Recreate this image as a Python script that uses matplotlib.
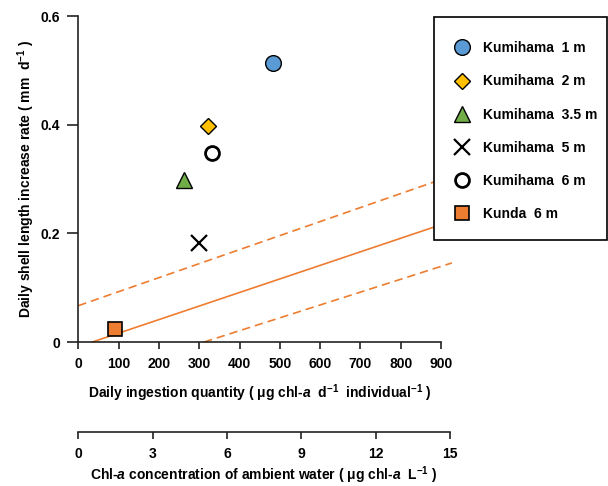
import matplotlib
matplotlib.use("Agg")
import matplotlib.pyplot as plt
from matplotlib.patches import Rectangle
import numpy as np

# ---- data ----
sites = ["Kumihama  1 m", "Kumihama  2 m", "Kumihama  3.5 m",
         "Kumihama  5 m", "Kumihama  6 m", "Kunda  6 m"]
ingestion = [482, 322, 262, 299, 332, 92]          # µg chl-a d-1 ind-1
growth = [0.513, 0.398, 0.299, 0.182, 0.348, 0.024]  # mm d-1

# regression line (solid) and bands (dashed): intercept, slope, x-start, x-end
line_intercepts = [-0.0087, 0.0668, -0.0739]
line_slopes = [0.0002495, 0.000258, 0.0002367]
line_xstart = [34.7, 0, 312]
line_xend = [930, 930, 927]
line_styles = ["solid", "dashed", "dashed"]

x_ticks = [0, 100, 200, 300, 400, 500, 600, 700, 800, 900]
y_ticks = [0, 0.2, 0.4, 0.6]
y_ticklabels = ["0", "0.2", "0.4", "0.6"]
x2_ticks = [0, 3, 6, 9, 12, 15]

FAM = ["Liberation Sans", "DejaVu Sans"]
plt.rcParams["font.family"] = FAM
plt.rcParams["font.weight"] = "bold"
plt.rcParams["mathtext.fontset"] = "custom"
plt.rcParams["mathtext.rm"] = "Liberation Sans:bold"
plt.rcParams["mathtext.it"] = "Liberation Sans:italic:bold"
plt.rcParams["mathtext.bf"] = "Liberation Sans:bold"

FS = 10
W, H = 608, 486
fig = plt.figure(figsize=(W / 100, H / 100), dpi=100)

x0, x900 = 78.3, 441.0
ytop, ybot = 16.0, 342.0
ax = fig.add_axes([x0 / W, 1 - ybot / H, (x900 - x0) / W, (ybot - ytop) / H])
ax.set_xlim(0, 900)
ax.set_ylim(0, 0.6)
for s in ["top", "right"]:
    ax.spines[s].set_visible(False)
for s in ["left", "bottom"]:
    ax.spines[s].set_linewidth(1.2)
    ax.spines[s].set_color("#222222")

orange = "#ED7D31"
for b, m, xs, xe, ls in zip(line_intercepts, line_slopes, line_xstart, line_xend, line_styles):
    xx = np.array([xs, xe])
    style = "-" if ls == "solid" else (0, (5, 3))
    ax.plot(xx, b + m * xx, color=orange, lw=1.2, linestyle=style, clip_on=False, zorder=2)

styles = [
    dict(marker="o", ms=11.3, mfc="#5B9BD5", mec="black", mew=1.0),
    dict(marker="D", ms=8.3, mfc="#FFC000", mec="black", mew=1.0),
    dict(marker="^", ms=12, mfc="#70AD47", mec="black", mew=1.0),
    dict(marker="x", ms=11.5, mfc="black", mec="black", mew=1.6),
    dict(marker="o", ms=10, mfc="white", mec="black", mew=2.0),
    dict(marker="s", ms=10.3, mfc="#ED7D31", mec="black", mew=1.2),
]
handles = []
for xv, yv, st, lab in zip(ingestion, growth, styles, sites):
    h, = ax.plot([xv], [yv], linestyle="none", label=lab, zorder=4, clip_on=False, **st)
    handles.append(h)

ax.set_xticks(x_ticks)
ax.set_xticklabels([str(v) for v in x_ticks])
ax.set_yticks(y_ticks)
ax.set_yticklabels(y_ticklabels)
ax.tick_params(axis="x", direction="out", length=5, width=1.2, pad=6, labelsize=FS, color="#222222")
ax.tick_params(axis="y", direction="out", length=8, width=1.2, pad=5, labelsize=FS, color="#222222")

ax.set_xlabel("Daily ingestion quantity ( μg chl-$a$  d$^{-1}$  individual$^{-1}$ )",
              fontsize=FS, fontweight="bold", labelpad=8)
ax.set_ylabel("Daily shell length increase rate ( mm  d$^{-1}$ )",
              fontsize=FS, fontweight="bold", labelpad=3)

# secondary axis (chl-a concentration)
y2 = 432.0
x15 = 450.0
ax2 = fig.add_axes([x0 / W, 1 - y2 / H, (x15 - x0) / W, 0.0001])
ax2.set_xlim(0, 15)
ax2.set_yticks([])
for s in ["top", "right", "left"]:
    ax2.spines[s].set_visible(False)
ax2.spines["bottom"].set_linewidth(1.2)
ax2.spines["bottom"].set_color("#222222")
ax2.patch.set_visible(False)
ax2.set_xticks(x2_ticks)
ax2.set_xticklabels([str(v) for v in x2_ticks])
ax2.tick_params(axis="x", direction="out", length=5, width=1.2, pad=6, labelsize=FS, color="#222222")
ax2.set_xlabel("Chl-$a$ concentration of ambient water ( μg chl-$a$  L$^{-1}$ )",
               fontsize=FS, fontweight="bold", labelpad=2)

# legend box (white background, black border)
lx0, ly0, lx1, ly1 = 434, 17, 607, 240
box = Rectangle((lx0 / W, 1 - ly1 / H), (lx1 - lx0) / W, (ly1 - ly0) / H,
                transform=fig.transFigure, facecolor="white", edgecolor="black",
                linewidth=1.2, zorder=9)
fig.patches.append(box)

leg = fig.legend(handles=handles, loc="upper left",
                 bbox_to_anchor=(lx0 / W, 1 - ly0 / H), bbox_transform=fig.transFigure,
                 borderaxespad=0, frameon=False, fontsize=FS,
                 labelspacing=1.38, handlelength=0.55, handletextpad=1.25,
                 borderpad=1.75, numpoints=1)
leg.set_zorder(10)

fig.savefig("out.png", dpi=100)
